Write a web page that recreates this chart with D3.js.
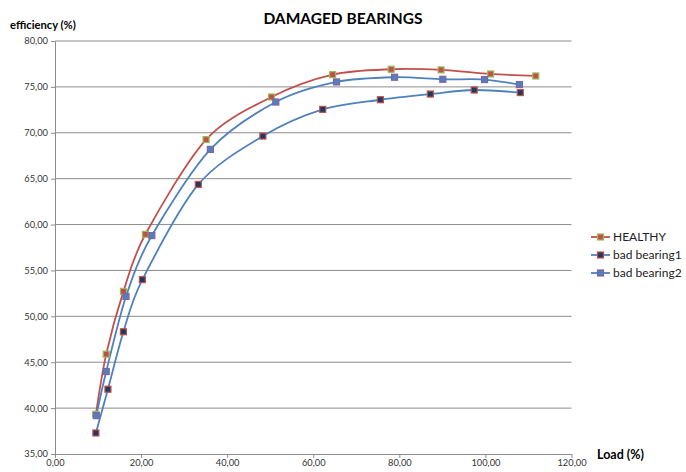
<!DOCTYPE html>
<html>
<head>
<meta charset="utf-8">
<script src="https://cdn.jsdelivr.net/npm/d3@7"></script>
<style>
  body { margin: 0; background: #fff; }
  text { font-family: Lato, "Open Sans", sans-serif; }
</style>
</head>
<body>
<svg id="chart"></svg>
<script>
// data
const healthyLoad = [9.5, 11.9, 15.9, 21.0, 35.1, 50.3, 64.5, 78.1, 89.7, 101.2, 111.7];
const healthyEff  = [39.33, 45.88, 52.72, 58.94, 69.26, 73.9, 76.34, 76.92, 76.85, 76.41, 76.19];
const bad1Load = [9.5, 12.3, 15.9, 20.3, 33.3, 48.3, 62.2, 75.6, 87.2, 97.4, 108.1];
const bad1Eff  = [37.29, 42.06, 48.32, 54.0, 64.37, 69.64, 72.55, 73.6, 74.22, 74.66, 74.38];
const bad2Load = [9.6, 11.9, 16.5, 22.5, 36.1, 51.3, 65.4, 78.9, 90.1, 99.8, 107.9];
const bad2Eff  = [39.18, 43.99, 52.17, 58.8, 68.19, 73.35, 75.54, 76.05, 75.83, 75.8, 75.25];
const seriesNames = ["HEALTHY", "bad bearing1", "bad bearing2"];
const xTicks = [0, 20, 40, 60, 80, 100, 120];
const yTicks = [35, 40, 45, 50, 55, 60, 65, 70, 75, 80];

let width = 686;
let height = 472;
let padding = { left: 55, right: 115, top: 41, bottom: 18 };

const series = [
  { name: seriesNames[0], x: healthyLoad, y: healthyEff, line: "#C0504D", fill: "#C0504D", stroke: "#9BBB59" },
  { name: seriesNames[1], x: bad1Load, y: bad1Eff, line: "#4F81BD", fill: "#1F3A60", stroke: "#C0504D" },
  { name: seriesNames[2], x: bad2Load, y: bad2Eff, line: "#4F81BD", fill: "#4F81BD", stroke: "#8064A2" }
];

const fmt = d => d3.format(".2f")(d).replace(".", ",");

let svg = d3.select("#chart").attr("width", width).attr("height", height);

let xScale = d3.scaleLinear().domain([0, 120]).range([padding.left, width - padding.right + 0.5]);
let yScale = d3.scaleLinear().domain([35, 80]).range([height - padding.bottom, padding.top]);

// grid
svg.append("g")
  .selectAll("line")
  .data(yTicks.slice(1))
  .join("line")
  .attr("x1", xScale(0)).attr("x2", xScale(120))
  .attr("y1", d => yScale(d)).attr("y2", d => yScale(d))
  .attr("stroke", "#8c8c8c").attr("stroke-width", 1);

let xAxis = d3.axisBottom(xScale).tickValues(xTicks).tickFormat(fmt).tickSize(4).tickSizeOuter(0);
let yAxis = d3.axisLeft(yScale).tickValues(yTicks).tickFormat(fmt).tickSize(4).tickSizeOuter(0);

let gx = svg.append("g")
  .attr("transform", `translate(0,${height - padding.bottom})`)
  .call(xAxis);
let gy = svg.append("g")
  .attr("transform", `translate(${padding.left},0)`)
  .call(yAxis);

[gx, gy].forEach(g => {
  g.select(".domain").attr("stroke", "#8c8c8c");
  g.selectAll(".tick line").attr("stroke", "#8c8c8c");
  g.selectAll(".tick text").attr("fill", "#333").style("font-size", "9.3px");
});
gx.selectAll(".tick text").attr("dy", "0.95em").attr("y", 3);
gy.selectAll(".tick text").attr("x", -7);

// lines and markers
let line = d3.line()
  .x(d => xScale(d[0]))
  .y(d => yScale(d[1]))
  .curve(d3.curveCardinal.tension(0.1));

series.forEach(s => {
  let pts = s.x.map((v, i) => [v, s.y[i]]);
  svg.append("path")
    .datum(pts)
    .attr("d", line)
    .attr("fill", "none")
    .attr("stroke", s.line)
    .attr("stroke-width", 1.8);
});

series.forEach(s => {
  let pts = s.x.map((v, i) => [v, s.y[i]]);
  svg.append("g")
    .selectAll("rect")
    .data(pts)
    .join("rect")
    .attr("x", d => xScale(d[0]) - 3)
    .attr("y", d => yScale(d[1]) - 3)
    .attr("width", 6).attr("height", 6)
    .attr("fill", s.fill)
    .attr("stroke", s.stroke)
    .attr("stroke-width", 1.2);
});

// titles
svg.append("text")
  .text("DAMAGED BEARINGS")
  .attr("x", 343).attr("y", 24)
  .attr("text-anchor", "middle")
  .style("font-size", "15.5px").style("font-weight", "bold").attr("fill", "#000");

svg.append("text")
  .text("efficiency (%)")
  .attr("x", 10).attr("y", 29)
  .style("font-size", "11.2px").style("font-weight", "bold").attr("fill", "#000");

svg.append("text")
  .text("Load (%)")
  .attr("x", 597).attr("y", 459)
  .style("font-size", "12.5px").style("font-weight", "bold").attr("fill", "#000");

// legend
let legend = svg.append("g").attr("transform", "translate(591,237)");
series.forEach((s, i) => {
  let g = legend.append("g").attr("transform", `translate(0,${i * 18})`);
  g.append("line").attr("x1", 0).attr("x2", 19).attr("y1", 0).attr("y2", 0)
    .attr("stroke", s.line).attr("stroke-width", 1.8);
  g.append("rect").attr("x", 6.5).attr("y", -3).attr("width", 6).attr("height", 6)
    .attr("fill", s.fill).attr("stroke", s.stroke).attr("stroke-width", 1.2);
  g.append("text").text(s.name).attr("x", 22).attr("y", 4)
    .style("font-size", "12px").attr("fill", "#222");
});
</script>
</body>
</html>
